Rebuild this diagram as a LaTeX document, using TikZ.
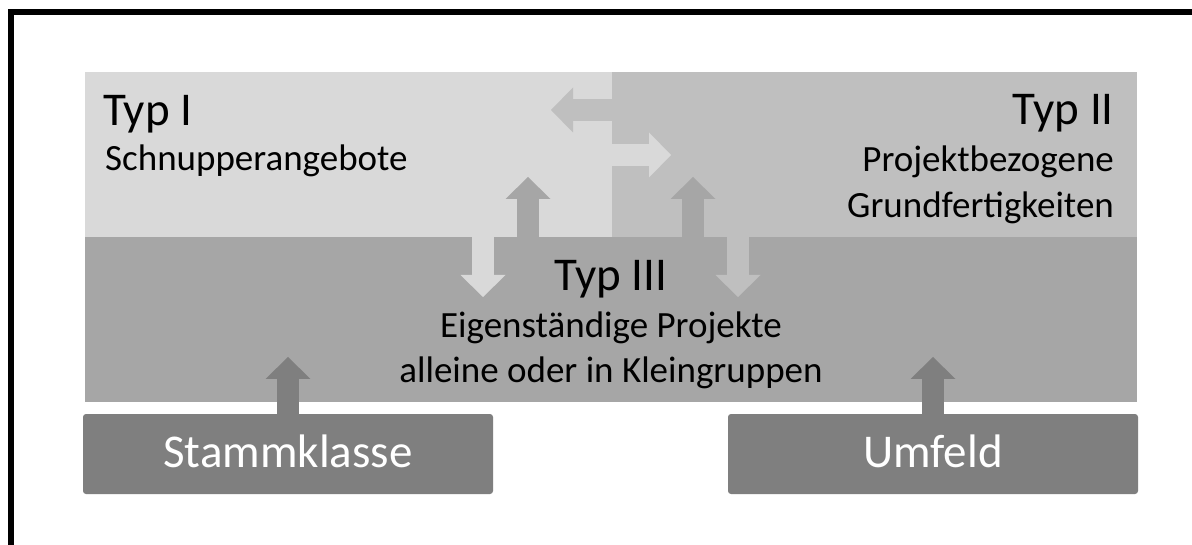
\documentclass[tikz,border=0pt]{standalone}
\usepackage{fontspec}
\setmainfont{Carlito}
\usetikzlibrary{arrows.meta}
\definecolor{typone}{HTML}{D9D9D9}
\definecolor{typtwo}{HTML}{BFBFBF}
\definecolor{typthree}{HTML}{A6A6A6}
\definecolor{basegray}{HTML}{7F7F7F}
\newcommand\typbig{\fontsize{47}{56}\selectfont}
\newcommand\typsmall{\fontsize{37}{45}\selectfont}
\tikzset{
  field/.style={anchor=north west, inner sep=0pt, outer sep=0pt, draw=none},
  basebox/.style={field, fill=basegray, rounded corners=3pt,
    minimum width=410pt, minimum height=80pt, text=white, font=\typbig,
    text height=26pt, text depth=0pt},
  blk/.style={draw=#1, line width=22pt,
    -{Triangle[width=45pt,length=22pt,line width=0pt]}},
  head/.style={font=\typbig, inner sep=0pt},
  sub/.style={font=\typsmall, inner sep=0pt},
}
\begin{document}
\begin{tikzpicture}[x=1pt,y=-1pt]
\useasboundingbox (0,0) rectangle (1192,545);
\fill[white] (0,0) rectangle (1192,545);
% frame
\draw[line width=6pt] (11,545) -- (11,12) -- (1192,12);

% the three fields
\node[field, fill=typone, minimum width=527pt, minimum height=165pt] (t1) at (85,72) {};
\node[field, fill=typtwo, minimum width=525pt, minimum height=165pt] (t2) at (612,72) {};
\node[field, fill=typthree, minimum width=1052pt, minimum height=165pt] (t3) at (85,237) {};

% the two bases
\node[basebox] (stamm) at (83,414) {Stammklasse};
\node[basebox] (umfeld) at (728,414) {Umfeld};

% arrow ends
\coordinate (lt) at (551,110);
\coordinate (rt) at (671,155);
\coordinate (ua) at (528,177);
\coordinate (ub) at (693,177);
\coordinate (da) at (483,297);
\coordinate (db) at (738,297);
\coordinate (sa) at (288,357);
\coordinate (sb) at (933,357);

% exchange between the fields
\draw[blk=typtwo] (t2.west |- lt) -- (lt);
\draw[blk=typone] (t1.east |- rt) -- (rt);
\draw[blk=typthree] (t3.north -| ua) -- (ua);
\draw[blk=typthree] (t3.north -| ub) -- (ub);
\draw[blk=typone] (t1.south -| da) -- (da);
\draw[blk=typtwo] (t2.south -| db) -- (db);
\draw[blk=basegray] (stamm.north -| sa) -- (sa);
\draw[blk=basegray] (umfeld.north -| sb) -- (sb);

% labels
\node[head, anchor=base west] (l1) at (103,126) {Typ I};
\node[sub, anchor=base west] (l1a) at (105,171) {Schnupperangebote};
\node[head, anchor=base east] (l2) at (1114,125) {Typ II};
\node[sub, anchor=base east] (l2a) at (1114,172) {Projektbezogene};
\node[sub, anchor=base east] (l2b) at (1114,218) {Grundfertigkeiten};
\node[head, anchor=base] (l3) at (611,291) {Typ III};
\node[sub, anchor=base] (l3a) at (611,338) {Eigenständige Projekte};
\node[sub, anchor=base] (l3b) at (611,383) {alleine oder in Kleingruppen};
\end{tikzpicture}
\end{document}
